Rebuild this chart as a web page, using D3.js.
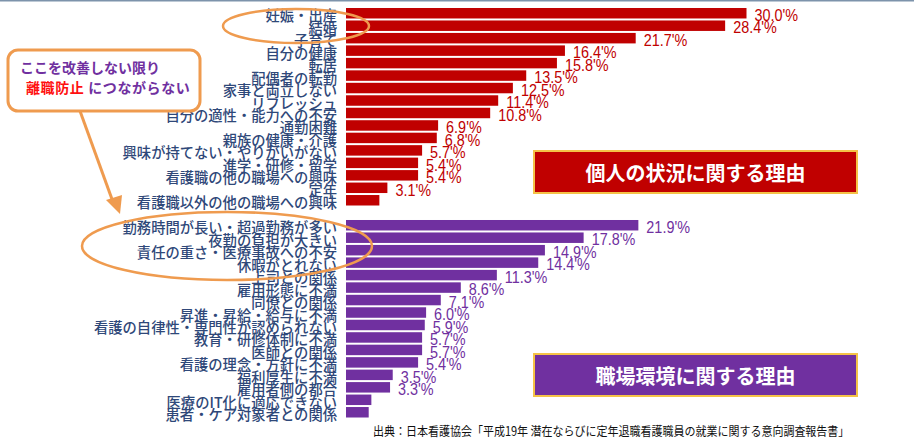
<!DOCTYPE html>
<html>
<head>
<meta charset="utf-8">
<script src="https://cdn.jsdelivr.net/npm/d3@7"></script>
<style>
  html, body { margin: 0; padding: 0; background: #fff; }
  svg { display: block; }
</style>
</head>
<body>
<svg id="chart" width="914" height="440"></svg>
<script>
// ---- data ----
const personalLabels = [
  "妊娠・出産", "結婚", "子育て", "自分の健康", "転居", "配偶者の転勤",
  "家事と両立しない", "リフレッシュ", "自分の適性・能力への不安", "通勤困難",
  "親族の健康・介護", "興味が持てない・やりがいがない", "進学・研修・留学",
  "看護職の他の職場への興味", "定年", "看護職以外の他の職場への興味"
];
const personalValues = [30.0, 28.4, 21.7, 16.4, 15.8, 13.5, 12.5, 11.4, 10.8, 6.9, 6.8, 5.7, 5.4, 5.4, 3.1, 2.5];
const personalValueLabels = ["30.0'%", "28.4'%", "21.7'%", "16.4'%", "15.8'%", "13.5'%", "12.5'%", "11.4'%", "10.8'%", "6.9'%", "6.8'%", "5.7'%", "5.4'%", "5.4'%", "3.1'%", ""];

const workLabels = [
  "勤務時間が長い・超過勤務が多い", "夜勤の負担が大きい", "責任の重さ・医療事故への不安",
  "休暇がとれない", "上司との関係", "雇用形態に不満", "同僚との関係", "昇進・昇給・給与に不満",
  "看護の自律性・専門性が認められない", "教育・研修体制に不満", "医師との関係",
  "看護の理念・方針に不満", "福利厚生に不満", "雇用者側の都合", "医療のIT化に適応できない",
  "患者・ケア対象者との関係"
];
const workValues = [21.9, 17.8, 14.9, 14.4, 11.3, 8.6, 7.1, 6.0, 5.9, 5.7, 5.7, 5.4, 3.5, 3.3, 1.9, 1.7];
const workValueLabels = ["21.9'%", "17.8'%", "14.9'%", "14.4'%", "11.3'%", "8.6'%", "7.1'%", "6.0'%", "5.9'%", "5.7'%", "5.7'%", "5.4'%", "3.5'%", "3.3'%", "", ""];

const groupTitles = ["個人の状況に関する理由", "職場環境に関する理由"];
const calloutLine1 = "ここを改善しない限り";
const calloutLine2a = "離職防止";
const calloutLine2b = " につながらない";
const sourceText = "出典：日本看護協会「平成19年 潜在ならびに定年退職看護職員の就業に関する意向調査報告書」";

// ---- styles ----
const RED = "#c00000", PURPLE = "#7030a0", ORANGE = "#ef9b4f", LABEL = "#2f4879", GOLD = "#f4c247";
const JP = "'Noto Sans CJK JP', 'Noto Sans', sans-serif";
const NUM = "'Liberation Sans', Arial, sans-serif";

const svg = d3.select("#chart");

// top rule
svg.append("line").attr("x1", 0).attr("x2", 914).attr("y1", 0.75).attr("y2", 0.75)
  .attr("stroke", "#7d93ab").attr("stroke-width", 1.5);

const x = d3.scaleLinear().domain([0, 30]).range([346, 746.5]);

function drawGroup(labels, values, vlabels, color, y0, y1) {
  const idx = d3.range(labels.length);
  const y = d3.scaleBand().domain(idx).range([y0, y1]).paddingInner(0.16).paddingOuter(0.08);
  const g = svg.append("g");
  g.selectAll("rect.bar").data(idx).join("rect")
    .attr("class", "bar")
    .attr("x", x(0))
    .attr("y", i => y(i))
    .attr("width", i => x(values[i]) - x(0))
    .attr("height", y.bandwidth())
    .attr("fill", color);
  // category labels
  g.selectAll("text.cat").data(idx).join("text")
    .attr("class", "cat")
    .attr("x", 337)
    .attr("y", i => y(i) + y.bandwidth() / 2 + 1.5)
    .attr("text-anchor", "end")
    .attr("dominant-baseline", "central")
    .attr("font-family", JP)
    .attr("font-size", 14.3)
    .attr("font-weight", 500)
    .attr("fill", LABEL)
    .text(i => labels[i]);
  // value labels
  g.selectAll("text.val").data(idx.filter(i => vlabels[i] !== "")).join("text")
    .attr("class", "val")
    .attr("transform", i => `translate(${x(values[i]) + 8},${y(i) + y.bandwidth() / 2 + 2}) scale(0.9,1)`)
    .attr("dominant-baseline", "central")
    .attr("font-family", NUM)
    .attr("font-size", 16)
    .attr("fill", color)
    .text(i => vlabels[i]);
}

drawGroup(personalLabels, personalValues, personalValueLabels, RED, 7, 206.5);
drawGroup(workLabels, workValues, workValueLabels, PURPLE, 219, 418.5);

// group title boxes
const boxes = [
  { y: 151, fill: RED, text: groupTitles[0] },
  { y: 354, fill: PURPLE, text: groupTitles[1] }
];
boxes.forEach(b => {
  svg.append("rect").attr("x", 534).attr("y", b.y).attr("width", 323).attr("height", 42)
    .attr("fill", b.fill).attr("stroke", GOLD).attr("stroke-width", 2);
  svg.append("text").attr("x", 695.5).attr("y", b.y + 21.5)
    .attr("text-anchor", "middle").attr("dominant-baseline", "central")
    .attr("font-family", JP).attr("font-size", 20).attr("font-weight", 700)
    .attr("fill", "#fff").text(b.text);
});

// ellipses
svg.append("ellipse").attr("cx", 296).attr("cy", 26).attr("rx", 73).attr("ry", 17)
  .attr("fill", "none").attr("stroke", ORANGE).attr("stroke-width", 2.5);
svg.append("ellipse").attr("cx", 227).attr("cy", 246).attr("rx", 145).attr("ry", 34)
  .attr("fill", "none").attr("stroke", ORANGE).attr("stroke-width", 2.5);

// callout tail + arrow
svg.append("line").attr("x1", 80).attr("y1", 111).attr("x2", 113).attr("y2", 202)
  .attr("stroke", ORANGE).attr("stroke-width", 3);
svg.append("path").attr("d", "M106,200 L122,195 L120,214 Z").attr("fill", ORANGE);

// callout box
svg.append("rect").attr("x", 8).attr("y", 50).attr("width", 192).attr("height", 61)
  .attr("rx", 10).attr("fill", "#fff").attr("stroke", ORANGE).attr("stroke-width", 3);
svg.append("text").attr("x", 20).attr("y", 67).attr("dominant-baseline", "central")
  .attr("font-family", JP).attr("font-size", 14).attr("font-weight", 700)
  .attr("fill", PURPLE).text(calloutLine1);
const t2 = svg.append("text").attr("x", 26).attr("y", 87).attr("dominant-baseline", "central")
  .attr("font-family", JP).attr("font-size", 14).attr("font-weight", 700)
  .attr("letter-spacing", "0.6px");
t2.append("tspan").attr("fill", "#ff1010").text(calloutLine2a);
t2.append("tspan").attr("fill", PURPLE).text(calloutLine2b);

// source
svg.append("text")
  .attr("transform", "translate(373,430) scale(0.88,1)")
  .attr("dominant-baseline", "central")
  .attr("font-family", JP).attr("font-size", 12.5)
  .attr("fill", "#111").text(sourceText);
</script>
</body>
</html>
